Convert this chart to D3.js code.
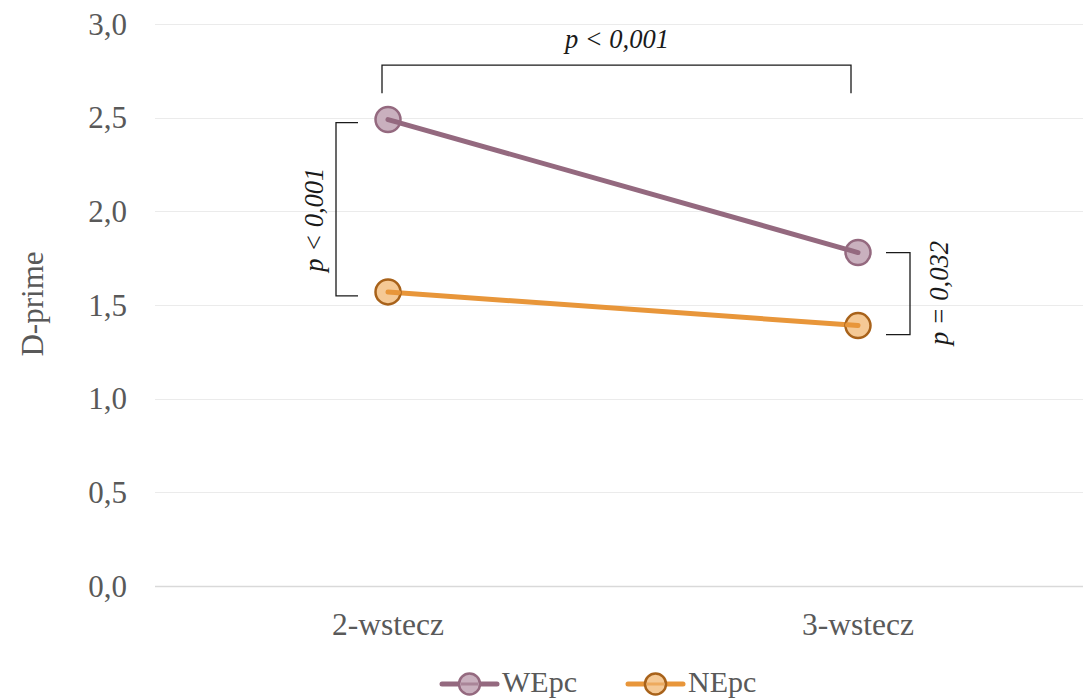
<!DOCTYPE html>
<html>
<head>
<meta charset="utf-8">
<script src="https://cdn.jsdelivr.net/npm/d3@7"></script>
<style>
  body { margin: 0; background: #fff; }
</style>
</head>
<body>
<div class="chart"></div>
<script>
const categories = ["2-wstecz", "3-wstecz"];
const seriesNames = ["WEpc", "NEpc"];
const wepcValues = [2.49, 1.78];
const nepcValues = [1.57, 1.39];
const yTicks = [0, 0.5, 1, 1.5, 2, 2.5, 3];
const pLabels = ["p < 0,001", "p < 0,001", "p = 0,032"];

const W = 1083, H = 699;
const margin = { top: 24, right: 0, bottom: 113, left: 155 };
const serif = "'Liberation Serif', 'Times New Roman', 'DejaVu Serif', serif";

const series = [
    { name: seriesNames[0], values: wepcValues, line: "#94697f", fill: "#c9b0be", stroke: "#94697f" },
    { name: seriesNames[1], values: nepcValues, line: "#e8963a", fill: "#f5c995", stroke: "#a8621a" },
];

const svg = d3.select(".chart").append("svg")
    .attr("width", W)
    .attr("height", H)
    .attr("font-family", serif);

const x = d3.scalePoint()
    .domain(categories)
    .range([388, 858]);

const y = d3.scaleLinear()
    .domain([0, 3])
    .range([H - margin.bottom, margin.top]);

// grid
svg.append("g")
    .selectAll("line")
    .data(yTicks)
    .enter()
    .append("line")
    .attr("x1", margin.left)
    .attr("x2", W)
    .attr("y1", d => Math.round(y(d)) + 0.5)
    .attr("y2", d => Math.round(y(d)) + 0.5)
    .attr("stroke", d => d === 0 ? "#d9d9d9" : "#ebebeb")
    .attr("stroke-width", d => d === 0 ? 1.5 : 1);

// y axis labels
const fmt = d3.format(".1f");
svg.append("g")
    .attr("id", "y-axis")
    .selectAll("text")
    .data(yTicks)
    .enter()
    .append("text")
    .attr("x", 127)
    .attr("y", d => y(d))
    .attr("dy", "0.34em")
    .attr("text-anchor", "end")
    .attr("fill", "#595959")
    .style("font-size", "31px")
    .text(d => fmt(d).replace(".", ","));

svg.append("text")
    .text("D-prime")
    .attr("transform", "translate(43," + 304 + ") rotate(-90)")
    .attr("text-anchor", "middle")
    .attr("fill", "#595959")
    .style("font-size", "31px");

// x axis labels
svg.append("g")
    .attr("id", "x-axis")
    .selectAll("text")
    .data(categories)
    .enter()
    .append("text")
    .attr("x", d => x(d))
    .attr("y", 635)
    .attr("text-anchor", "middle")
    .attr("fill", "#595959")
    .style("font-size", "31.5px")
    .text(d => d);

// lines + points
const line = d3.line()
    .x((d, i) => x(categories[i]))
    .y(d => y(d));

series.forEach(s => {
    svg.append("path")
        .datum(s.values)
        .attr("d", line)
        .attr("fill", "none")
        .attr("stroke", s.line)
        .attr("stroke-width", 5)
        .attr("stroke-linecap", "round");
    svg.selectAll(".pt-" + s.name)
        .data(s.values)
        .enter()
        .append("circle")
        .attr("cx", (d, i) => x(categories[i]))
        .attr("cy", d => y(d))
        .attr("r", 12.5)
        .attr("fill", s.fill)
        .attr("stroke", s.stroke)
        .attr("stroke-width", 2.5);
});

// short line stubs into the markers (line sits over the circle centre)
series.forEach(s => {
    const x0 = x(categories[0]), x1 = x(categories[1]);
    const y0 = y(s.values[0]), y1 = y(s.values[1]);
    const len = Math.hypot(x1 - x0, y1 - y0);
    const ux = (x1 - x0) / len, uy = (y1 - y0) / len;
    [[x0, y0, 1], [x1, y1, -1]].forEach(([px, py, dir]) => {
        svg.append("line")
            .attr("x1", px).attr("y1", py)
            .attr("x2", px + dir * ux * 10.5).attr("y2", py + dir * uy * 10.5)
            .attr("stroke", s.line)
            .attr("stroke-width", 5)
            .attr("stroke-linecap", "round");
    });
});

// significance brackets
const ink = "#1a1a1a";
const ann = svg.append("g").attr("fill", "none").attr("stroke", ink).attr("stroke-width", 1.3);

// top bracket between categories
const topY = y(2.78);
ann.append("path")
    .attr("d", `M${x(categories[0]) - 6},${y(2.63)} V${topY} H${x(categories[1]) - 7} V${y(2.63)}`);
svg.append("text")
    .attr("x", (x(categories[0]) + x(categories[1])) / 2 - 6)
    .attr("y", 48)
    .attr("text-anchor", "middle")
    .attr("fill", ink)
    .style("font-style", "italic")
    .style("font-size", "26.5px")
    .text(pLabels[0]);

// left bracket (2-wstecz)
const lx = x(categories[0]) - 52;
ann.append("path")
    .attr("d", `M${lx + 22},${y(wepcValues[0]) + 3} H${lx} V${y(nepcValues[0]) + 4} H${lx + 22}`);
svg.append("text")
    .attr("transform", `translate(${lx - 13},${(y(wepcValues[0]) + y(nepcValues[0])) / 2 + 14}) rotate(-90)`)
    .attr("text-anchor", "middle")
    .attr("fill", ink)
    .style("font-style", "italic")
    .style("font-size", "26.5px")
    .text(pLabels[1]);

// right bracket (3-wstecz)
const rx = x(categories[1]) + 52;
ann.append("path")
    .attr("d", `M${rx - 24},${y(wepcValues[1])} H${rx} V${y(nepcValues[1]) + 9} H${rx - 24}`);
svg.append("text")
    .attr("transform", `translate(${rx + 38},${(y(wepcValues[1]) + y(nepcValues[1])) / 2 + 4}) rotate(-90)`)
    .attr("text-anchor", "middle")
    .attr("fill", ink)
    .style("font-style", "italic")
    .style("font-size", "26.5px")
    .text(pLabels[2]);

// legend
const legend = svg.append("g").attr("id", "legend");
const legendX = [442, 628];
series.forEach((s, i) => {
    const g = legend.append("g").attr("transform", `translate(${legendX[i]},684)`);
    g.append("line")
        .attr("x1", 0).attr("x2", 55)
        .attr("stroke", s.line)
        .attr("stroke-width", 5)
        .attr("stroke-linecap", "round");
    g.append("circle")
        .attr("cx", 27.5)
        .attr("r", 10.5)
        .attr("fill", s.fill)
        .attr("stroke", s.stroke)
        .attr("stroke-width", 2.5);
    g.append("line")
        .attr("x1", 19).attr("x2", 36)
        .attr("stroke", s.line)
        .attr("stroke-width", 3)
        .attr("opacity", 0.6);
    g.append("text")
        .attr("x", 60)
        .attr("y", 8)
        .attr("fill", "#595959")
        .style("font-size", "30px")
        .text(s.name);
});
</script>
</body>
</html>
